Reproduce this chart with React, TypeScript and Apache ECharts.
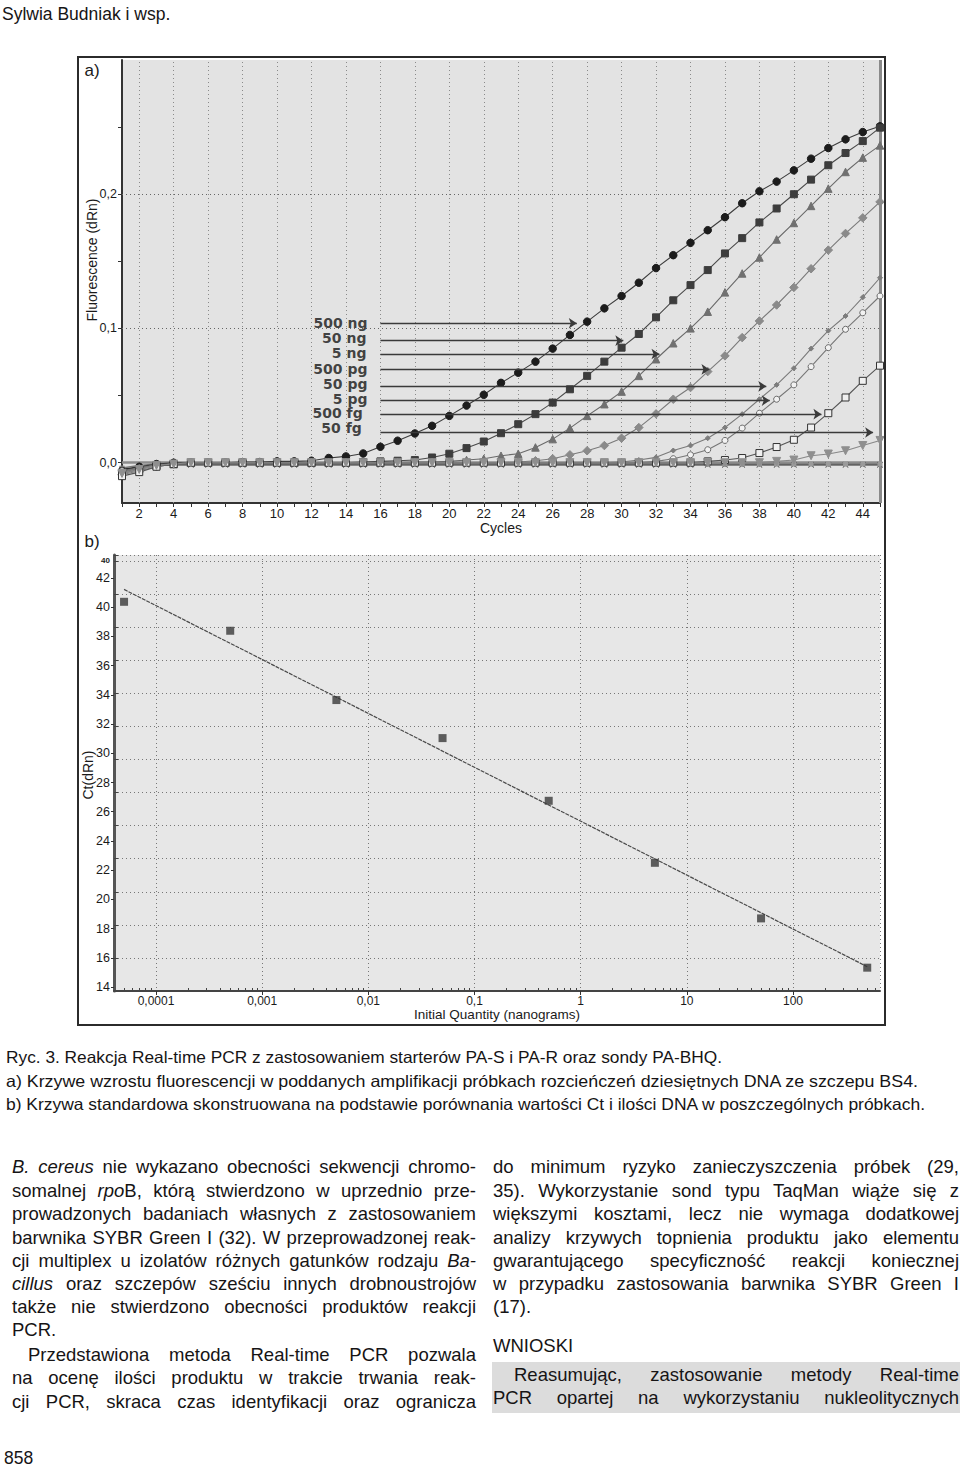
import React, { useEffect, useLayoutEffect, useRef } from 'react';
import * as echarts from 'echarts';

// ---------------- Chart a) amplification curves ----------------
const cycles = [1,2,3,4,5,6,7,8,9,10,11,12,13,14,15,16,17,18,19,20,21,22,23,24,25,26,27,28,29,30,31,32,33,34,35,36,37,38,39,40,41,42,43,44,45];
const cycleTickLabels = [2,4,6,8,10,12,14,16,18,20,22,24,26,28,30,32,34,36,38,40,42,44];
const fluorescenceTicks = [0, 0.05, 0.1, 0.15, 0.2, 0.25];
const fluorescenceLabels = [0, 0.1, 0.2];
const fluorescenceGrid = [0.1, 0.2];

const amp500ng = [-0.006,-0.003,-0.001,0,0,0,0,0.0005,0.0005,0.001,
  0.001,0.0015,0.0035,0.0047,0.0069,0.0119,0.0164,0.0218,0.0275,0.0349,
  0.0426,0.0506,0.0595,0.0671,0.0753,0.085,0.0952,0.1051,0.115,0.1242,
  0.1341,0.145,0.1546,0.1638,0.1732,0.1829,0.1933,0.2022,0.2094,0.2178,
  0.2265,0.2344,0.2409,0.2463,0.2506];
const amp50ng = [-0.008,-0.005,-0.002,-0.001,0,0,0,0,0,0,
  0,0,0,0,0.0005,0.001,0.0015,0.002,0.0039,0.0067,
  0.0109,0.0158,0.022,0.0287,0.0362,0.0448,0.0547,0.0647,0.0753,0.0857,
  0.0959,0.1083,0.121,0.1323,0.1435,0.1559,0.1673,0.179,0.1894,0.2,
  0.2109,0.2216,0.2307,0.2396,0.2496];
const amp5ng = [-0.007,-0.004,-0.002,-0.001,0,0,0,0,0,0,
  0,0,0,0,0,0,0,0.0005,0.0005,0.001,
  0.002,0.003,0.0052,0.0067,0.0114,0.0176,0.0258,0.0349,0.0436,0.053,
  0.0647,0.0771,0.089,0.1001,0.1125,0.1269,0.141,0.1529,0.1663,0.1786,
  0.1913,0.2042,0.2166,0.2273,0.2364];
const amp500pg = [-0.009,-0.006,-0.003,-0.001,0,0,0,0,0,0,
  0,0,0,0,0,0,0,0,0,0,
  0,0,0,0.0005,0.0015,0.003,0.0059,0.0089,0.0128,0.0183,
  0.0262,0.0364,0.0473,0.056,0.0679,0.0796,0.0932,0.1056,0.1175,0.1306,
  0.1445,0.1584,0.1708,0.1824,0.1943];
const amp50pg = [-0.007,-0.004,-0.002,-0.001,0,0,0,0,0,0,
  0,0,0,0,0,0,0,0,0,0,
  0,0,0,0,0,0,0,0,0,0.0005,
  0.002,0.004,0.0091,0.0128,0.0183,0.0262,0.0362,0.0473,0.058,0.0704,
  0.085,0.0984,0.1093,0.1232,0.1378];
const amp5pg = [-0.006,-0.004,-0.002,-0.001,0,0,0,0,0,0,
  0,0,0,0,0,0,0,0,0,0,
  0,0,0,0,0,0,0,0,0,0,
  0,0.001,0.003,0.0059,0.0097,0.0166,0.0258,0.0369,0.0473,0.058,
  0.0716,0.0857,0.0994,0.1117,0.1242];
const amp500fg = [-0.01,-0.007,-0.003,-0.001,0,0,0,0,0,0,
  0,0,0,0,0,0,0,0,0,0,
  0,0,0,0,0,0,0,0,0,0,
  0,0,0,0,0.001,0.002,0.0035,0.0072,0.0117,0.0171,
  0.0262,0.0369,0.0486,0.061,0.0723];
const amp50fg = [-0.008,-0.005,-0.002,-0.001,0,0,0,0,0,0,
  0,0,0,0,0,0,0,0,0,0,
  0,0,0,0,0,0,0,0,0,0,
  0,0,0,0,0,0,0,0,0.001,0.002,
  0.0052,0.0065,0.0089,0.0128,0.0166];
const ntcA = [-0.005,-0.003,-0.002,-0.0015,-0.0015,-0.0015,-0.0015,-0.0015,-0.0015,-0.0015,
  -0.0015,-0.0015,-0.0015,-0.0015,-0.0015,-0.0015,-0.0015,-0.0015,-0.0015,-0.0015,
  -0.0015,-0.0015,-0.0015,-0.0015,-0.0015,-0.0015,-0.0015,-0.0015,-0.0015,-0.0015,
  -0.0015,-0.0015,-0.0015,-0.0015,-0.0015,-0.0015,-0.0015,-0.0015,-0.0015,-0.0015,
  -0.0015,-0.0015,-0.0015,-0.0015,-0.0015];
const ntcB = [-0.004,-0.002,-0.001,-0.001,-0.001,-0.001,-0.001,-0.001,-0.001,-0.001,
  -0.001,-0.001,-0.001,-0.001,-0.001,-0.001,-0.001,-0.001,-0.001,-0.001,
  -0.001,-0.001,-0.001,-0.001,-0.001,-0.001,-0.001,-0.001,-0.001,-0.001,
  -0.001,-0.001,-0.001,-0.001,-0.001,-0.001,-0.001,-0.001,-0.001,-0.001,
  -0.001,-0.001,-0.001,-0.001,-0.001];
const thresholdValue = 0.0028;

const dilutionLabels = ['500 ng', '50 ng', '5 ng', '500 pg', '50 pg', '5 pg', '500 fg', '50 fg'];
const labelLevels = [0.1041, 0.0929, 0.0818, 0.0699, 0.0587, 0.0476, 0.0372, 0.026];
const labelCycles = [15.28, 15.22, 15.22, 15.28, 15.28, 15.28, 15.0, 14.95];
const arrowLevels = [0.1039, 0.0909, 0.081, 0.0695, 0.0569, 0.0463, 0.0362, 0.0225];
const arrowStartCycle = 16.0;
const arrowEndCycles = [27.4, 30.1, 32.2, 35.1, 38.4, 38.6, 41.6, 44.6];

// ---------------- Chart b) standard curve ----------------
const quantities = [0.00005, 0.0005, 0.005, 0.05, 0.5, 5, 50, 500];
const ctValues = [37.53, 35.78, 31.59, 29.29, 25.5, 21.75, 18.39, 15.41];
const fitQuantities = [0.00005, 500];
const fitCt = [38.28, 15.47];
const ctTickLabelMin = 14;
const ctTickLabelMax = 42;
const quantityMin = 4.021e-5;
const quantityMax = 659.6;

// ---------------- styles ----------------
const curveStyles = [
  { symbol: 'circle', size: 7.5, fill: '#1c1c1c', border: '#1c1c1c', line: '#3c3c3c', rotate: 0 },
  { symbol: 'rect', size: 7, fill: '#3d3d3d', border: '#3d3d3d', line: '#4a4a4a', rotate: 0 },
  { symbol: 'triangle', size: 7.5, fill: '#707070', border: '#707070', line: '#6a6a6a', rotate: 0 },
  { symbol: 'diamond', size: 8.5, fill: '#8a8a8a', border: '#8a8a8a', line: '#7a7a7a', rotate: 0 },
  { symbol: 'diamond', size: 5, fill: '#7d7d7d', border: '#7d7d7d', line: '#7a7a7a', rotate: 0 },
  { symbol: 'circle', size: 6, fill: '#f2f2f2', border: '#6a6a6a', line: '#777777', rotate: 0 },
  { symbol: 'rect', size: 7, fill: '#f0f0f0', border: '#333333', line: '#555555', rotate: 0 },
  { symbol: 'triangle', size: 8, fill: '#8f8f8f', border: '#8f8f8f', line: '#888888', rotate: 180 },
];
const curves = [amp500ng, amp50ng, amp5ng, amp500pg, amp50pg, amp5pg, amp500fg, amp50fg];
const X_PATH = 'path://M1,0L5,4L9,0L10,1L6,5L10,9L9,10L5,6L1,10L0,9L4,5L0,1Z';

const FONT = '"Liberation Sans", Arial, Helvetica, sans-serif';
const TXT = '#161415';

function commaNum(v: number): string {
  return String(parseFloat(Number(v).toPrecision(6))).replace('.', ',');
}

function buildOption() {
  const minorLogTicks: number[] = [];
  for (let d = -5; d <= 2; d++) {
    for (let k = 2; k <= 9; k++) {
      const lv = d + Math.log10(k);
      if (lv > Math.log10(quantityMin) && lv < Math.log10(quantityMax)) minorLogTicks.push(lv);
    }
  }

  const ampSeries: any[] = curves.map((vals, idx) => {
    const st = curveStyles[idx];
    return {
      type: 'line',
      name: dilutionLabels[idx],
      xAxisIndex: 0,
      yAxisIndex: 0,
      data: cycles.map((c, i) => [c, vals[i]]),
      symbol: st.symbol,
      symbolSize: st.size,
      symbolRotate: st.rotate,
      showAllSymbol: true,
      itemStyle: { color: st.fill, borderColor: st.border, borderWidth: 1 },
      lineStyle: { color: st.line, width: 1.1 },
      z: 3,
      silent: true,
    };
  });

  const ntcSeries: any[] = [ntcA, ntcB].map((vals, idx) => ({
    type: 'line',
    name: 'NTC ' + (idx + 1),
    xAxisIndex: 0,
    yAxisIndex: 0,
    data: cycles.map((c, i) => [c, vals[i]]),
    symbol: idx === 0 ? X_PATH : 'rect',
    symbolSize: idx === 0 ? 6 : 5,
    showAllSymbol: true,
    itemStyle: { color: idx === 0 ? '#2a2a2a' : '#9a9a9a' },
    lineStyle: { color: idx === 0 ? '#2a2a2a' : '#777777', width: 1.5 },
    z: 2,
    silent: true,
  }));

  const gridLineSeries = {
    type: 'line',
    xAxisIndex: 0,
    yAxisIndex: 0,
    data: [],
    silent: true,
    markLine: {
      silent: true,
      z: 1,
      symbol: 'none',
      label: { show: false },
      lineStyle: { color: '#8a8a8a', type: [1, 3], width: 1 },
      data: [
        ...cycleTickLabels.map((c) => ({ xAxis: c })),
        ...fluorescenceGrid.map((v) => ({ yAxis: v, lineStyle: { color: '#666', type: [1, 3], width: 1 } })),
        { yAxis: thresholdValue, lineStyle: { color: '#8c8c8c', type: 'solid', width: 2.5 } },
        { xAxis: 45, lineStyle: { color: '#8a8a8a', type: 'solid', width: 3 } },
      ],
    },
  };

  const arrowSeries = {
    type: 'line',
    xAxisIndex: 0,
    yAxisIndex: 0,
    data: [],
    silent: true,
    markLine: {
      silent: true,
      z: 6,
      symbol: ['none', 'arrow'],
      symbolSize: 8,
      lineStyle: { color: '#3a3a3a', type: 'solid', width: 1.4 },
      label: { show: false },
      data: dilutionLabels.map((lab, i) => [
        { name: lab, coord: [arrowStartCycle, arrowLevels[i]] },
        { coord: [arrowEndCycles[i], arrowLevels[i]] },
      ]),
    },
  };

  const labelSeries = {
    type: 'scatter',
    xAxisIndex: 0,
    yAxisIndex: 0,
    data: dilutionLabels.map((lab, i) => ({ name: lab, value: [labelCycles[i], labelLevels[i]] })),
    symbol: 'circle',
    symbolSize: 1,
    itemStyle: { color: 'rgba(0,0,0,0)' },
    silent: true,
    z: 6,
    label: {
      show: true,
      position: 'left',
      distance: 0,
      formatter: '{b}',
      fontFamily: '"DejaVu Sans", Verdana, sans-serif',
      fontWeight: 'bold',
      fontSize: 14,
      color: '#151515',
    },
  };

  const scatterB = {
    type: 'scatter',
    xAxisIndex: 1,
    yAxisIndex: 1,
    data: quantities.map((q, i) => [q, ctValues[i]]),
    symbol: 'rect',
    symbolSize: 8,
    itemStyle: { color: '#3a3a3a' },
    z: 4,
    silent: true,
  };
  const fitB = {
    type: 'line',
    xAxisIndex: 1,
    yAxisIndex: 1,
    data: fitQuantities.map((q, i) => [q, fitCt[i]]),
    symbol: 'none',
    lineStyle: { color: '#4a4a4a', width: 1.2, type: [4, 1] },
    z: 3,
    silent: true,
  };

  return {
    animation: false,
    textStyle: { fontFamily: FONT },
    grid: [
      { left: 122, top: 60, width: 758, height: 443, show: true, backgroundColor: '#e3e3e3', borderWidth: 0 },
      { left: 114, top: 555, width: 766, height: 436, show: true, backgroundColor: '#e7e7e7', borderWidth: 0 },
      { left: 114, top: 578, width: 766, height: 409, show: false },
    ],
    xAxis: [
      {
        gridIndex: 0, type: 'value', min: 1, max: 45,
        name: 'Cycles', nameLocation: 'middle', nameGap: 14,
        nameTextStyle: { fontSize: 14, color: '#1a1a1a', verticalAlign: 'top', fontFamily: FONT },
        axisLine: { show: true, onZero: false, lineStyle: { color: '#333', width: 2 } },
        axisTick: { show: true, customValues: cycles, length: 4, lineStyle: { color: '#333' } },
        axisLabel: { customValues: cycleTickLabels, margin: 4, fontSize: 13, color: '#1a1a1a' },
        splitLine: { show: false },
      },
      {
        gridIndex: 1, type: 'log', logBase: 10, min: quantityMin, max: quantityMax,
        name: 'Initial Quantity (nanograms)', nameLocation: 'middle', nameGap: 16,
        nameTextStyle: { fontSize: 13.5, color: '#1a1a1a', verticalAlign: 'top', fontFamily: FONT },
        axisLine: { show: true, onZero: false, lineStyle: { color: '#444', width: 2 } },
        axisTick: { show: true, length: 4, lineStyle: { color: '#333' } },
        axisLabel: { formatter: (v: number) => commaNum(v), showMinLabel: false, showMaxLabel: false, margin: 4, fontSize: 12, color: '#1a1a1a' },
        splitLine: { show: true, lineStyle: { color: '#777', type: [1, 3], width: 1 } },
      },
      { gridIndex: 2, type: 'value', show: false, min: 0, max: 1 },
      {
        gridIndex: 1, type: 'value', position: 'bottom',
        min: Math.log10(quantityMin), max: Math.log10(quantityMax),
        axisLine: { show: false, onZero: false },
        axisLabel: { show: false },
        splitLine: { show: false },
        axisTick: { show: true, inside: true, customValues: minorLogTicks, length: 3, lineStyle: { color: '#444' } },
      },
    ],
    yAxis: [
      {
        gridIndex: 0, type: 'value', min: -0.03, max: 0.3,
        axisLine: { show: true, onZero: false, lineStyle: { color: '#333', width: 2 } },
        axisTick: { show: true, customValues: fluorescenceTicks, length: 4, lineStyle: { color: '#333' } },
        axisLabel: { customValues: fluorescenceLabels, formatter: (v: number) => Number(v).toFixed(1).replace('.', ','), margin: 5, fontSize: 12.5, color: '#1a1a1a' },
        splitLine: { show: false },
      },
      {
        gridIndex: 1, type: 'value', min: 14, max: 40.36, interval: 2,
        axisLine: { show: true, onZero: false, lineStyle: { color: '#555', width: 3 } },
        axisTick: { show: true, inside: true, length: 4, lineStyle: { color: '#444' } },
        axisLabel: { formatter: (v: number) => (Math.abs(v - 40) < 1e-6 ? '40' : ''), fontSize: 8, margin: 4, color: '#222', fontWeight: 'bold' },
        splitLine: { show: true, lineStyle: { color: '#777', type: [1, 3], width: 1 } },
      },
      {
        gridIndex: 2, type: 'value', min: ctTickLabelMin, max: ctTickLabelMax, interval: 2,
        axisLine: { show: false, onZero: false },
        axisTick: { show: true, length: 3, lineStyle: { color: '#333' } },
        axisLabel: { margin: 4, fontSize: 12.5, color: '#1a1a1a' },
        splitLine: { show: false },
      },
    ],
    series: [gridLineSeries, ...ntcSeries, ...ampSeries, arrowSeries, labelSeries, fitB, scatterB],
    graphic: [
      { type: 'rect', silent: true, z: 10, shape: { x: 78, y: 57, width: 807, height: 968 }, style: { fill: 'rgba(0,0,0,0)', stroke: '#2b2b2b', lineWidth: 2 } },
      { type: 'text', silent: true, x: 92, y: 70, style: { text: 'a)', fontSize: 17, fontFamily: FONT, fill: '#1a1a1a', align: 'center', verticalAlign: 'middle' } },
      { type: 'text', silent: true, x: 92, y: 541, style: { text: 'b)', fontSize: 17, fontFamily: FONT, fill: '#1a1a1a', align: 'center', verticalAlign: 'middle' } },
      { type: 'text', silent: true, x: 92, y: 260, rotation: Math.PI / 2, style: { text: 'Fluorescence (dRn)', fontSize: 14, fontFamily: FONT, fill: '#1a1a1a', align: 'center', verticalAlign: 'middle' } },
      { type: 'text', silent: true, x: 88, y: 775, rotation: Math.PI / 2, style: { text: 'Ct(dRn)', fontSize: 14, fontFamily: FONT, fill: '#1a1a1a', align: 'center', verticalAlign: 'middle' } },
    ],
  };
}

function Line(props: { x: number; y: number; w?: number; size?: number; fitW?: number; children: any }) {
  const ref = useRef<HTMLDivElement>(null);
  useLayoutEffect(() => {
    const el = ref.current;
    if (!el || !props.fitW) return;
    el.style.transform = 'none';
    const w = el.getBoundingClientRect().width;
    if (w > 0) el.style.transform = `scaleX(${props.fitW / w})`;
  }, [props.fitW]);
  const size = props.size ?? 18.5;
  const style: any = {
    position: 'absolute', left: props.x, top: props.y - 11, height: 22, lineHeight: '22px',
    fontFamily: FONT, fontSize: size, color: TXT, transformOrigin: '0 50%', margin: 0,
    whiteSpace: 'nowrap',
  };
  if (props.w) {
    style.width = props.w;
    style.textAlign = 'justify';
    style.textAlignLast = 'justify';
  }
  return <div ref={ref} style={style}>{props.children}</div>;
}

export default function App() {
  const chartRef = useRef<HTMLDivElement>(null);
  useEffect(() => {
    if (!chartRef.current) return;
    const chart = echarts.init(chartRef.current, undefined, { renderer: 'svg' });
    chart.setOption(buildOption() as any);
    return () => chart.dispose();
  }, []);

  const LX = 12, LW = 464, RX = 493, RW = 466;
  return (
    <div style={{ position: 'absolute', left: 0, top: 0, width: 960, height: 1473, background: '#fff', overflow: 'hidden' }}>
      <div ref={chartRef} style={{ position: 'absolute', left: 0, top: 0, width: 960, height: 1473 }} />

      <Line x={2} y={14} size={17.5}>Sylwia Budniak i wsp.</Line>

      <Line x={6} y={1057} size={16.5} fitW={716}>Ryc. 3. Reakcja Real-time PCR z zastosowaniem starterów PA-S i PA-R oraz sondy PA-BHQ.</Line>
      <Line x={6} y={1081} size={16.5} fitW={912}>a) Krzywe wzrostu fluorescencji w poddanych amplifikacji próbkach rozcieńczeń dziesiętnych DNA ze szczepu BS4.</Line>
      <Line x={6} y={1104} size={16.5} fitW={919}>b) Krzywa standardowa skonstruowana na podstawie porównania wartości Ct i ilości DNA w poszczególnych próbkach.</Line>

      <Line x={LX} y={1167} w={LW}><i>B. cereus</i> nie wykazano obecności sekwencji chromo-</Line>
      <Line x={LX} y={1191} w={LW}>somalnej <i>rpo</i>B, którą stwierdzono w uprzednio prze-</Line>
      <Line x={LX} y={1214} w={LW}>prowadzonych badaniach własnych z zastosowaniem</Line>
      <Line x={LX} y={1238} w={LW}>barwnika SYBR Green I (32). W przeprowadzonej reak-</Line>
      <Line x={LX} y={1261} w={LW}>cji multiplex u izolatów różnych gatunków rodzaju <i>Ba-</i></Line>
      <Line x={LX} y={1284} w={LW}><i>cillus</i> oraz szczepów sześciu innych drobnoustrojów</Line>
      <Line x={LX} y={1307} w={LW}>także nie stwierdzono obecności produktów reakcji</Line>
      <Line x={LX} y={1330}>PCR.</Line>
      <Line x={LX + 16} y={1355} w={LW - 16}>Przedstawiona metoda Real-time PCR pozwala</Line>
      <Line x={LX} y={1378} w={LW}>na ocenę ilości produktu w trakcie trwania reak-</Line>
      <Line x={LX} y={1402} w={LW}>cji PCR, skraca czas identyfikacji oraz ogranicza</Line>

      <Line x={RX} y={1167} w={RW}>do minimum ryzyko zanieczyszczenia próbek (29,</Line>
      <Line x={RX} y={1191} w={RW}>35). Wykorzystanie sond typu TaqMan wiąże się z</Line>
      <Line x={RX} y={1214} w={RW}>większymi kosztami, lecz nie wymaga dodatkowej</Line>
      <Line x={RX} y={1238} w={RW}>analizy krzywych topnienia produktu jako elementu</Line>
      <Line x={RX} y={1261} w={RW}>gwarantującego specyficzność reakcji koniecznej</Line>
      <Line x={RX} y={1284} w={RW}>w przypadku zastosowania barwnika SYBR Green I</Line>
      <Line x={RX} y={1307}>(17).</Line>
      <Line x={RX} y={1346}>WNIOSKI</Line>
      <div style={{ position: 'absolute', left: 492, top: 1362, width: 468, height: 51, background: '#dcdcdc' }} />
      <Line x={RX + 21} y={1375} w={RW - 21}>Reasumując, zastosowanie metody Real-time</Line>
      <Line x={RX} y={1398} w={RW}>PCR opartej na wykorzystaniu nukleolitycznych</Line>

      <Line x={4} y={1458} size={17.5}>858</Line>
    </div>
  );
}
